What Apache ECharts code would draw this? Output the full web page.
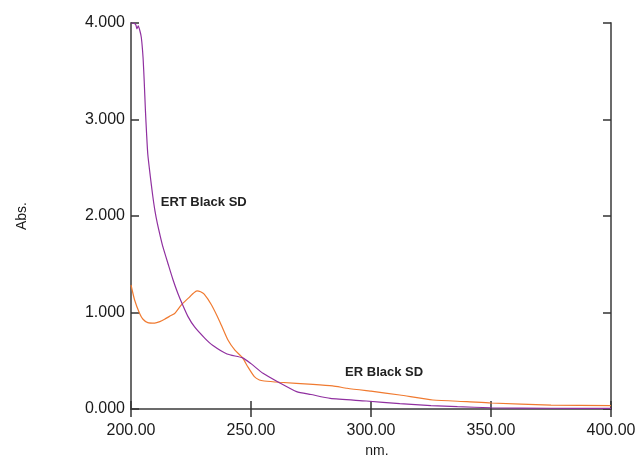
<!DOCTYPE html>
<html>
<head>
<meta charset="utf-8">
<script src="https://cdn.jsdelivr.net/npm/echarts@6/dist/echarts.min.js"></script>
<style>
  html, body { margin: 0; padding: 0; background: #fff; }
  #chart { width: 637px; height: 455px; }
</style>
</head>
<body>
<div id="chart"></div>
<script>
// UV-Vis absorbance spectra (wavelength in nm, absorbance)
const ertNm  = [200, 201, 202, 202.5, 203, 203.7, 204.3, 205, 205.5, 206, 206.5, 207, 208, 209, 210, 211, 212.2, 213.3, 215.5, 217.5, 219.5, 221.5, 223.7, 226.5, 230.7, 234, 240, 246.5, 250, 255, 262, 269, 275, 283, 298, 312, 325, 336, 350, 375, 400];
const ertAbs = [4.00, 4.00, 3.98, 3.94, 3.97, 3.92, 3.85, 3.65, 3.40, 3.10, 2.85, 2.64, 2.42, 2.22, 2.05, 1.92, 1.79, 1.68, 1.50, 1.34, 1.20, 1.08, 0.96, 0.85, 0.735, 0.66, 0.57, 0.53, 0.47, 0.37, 0.27, 0.18, 0.15, 0.11, 0.083, 0.055, 0.035, 0.024, 0.013, 0.008, 0.006];

const erNm  = [200, 201.5, 203.6, 205, 207, 209.9, 212, 214, 216, 218.2, 221, 224.4, 226, 227.5, 229, 230.5, 233.5, 237, 240.4, 243.3, 246.5, 248.6, 251.4, 253.5, 255.5, 262, 275.8, 284, 290, 298, 300, 312, 325.8, 340, 350, 375, 400];
const erAbs = [1.285, 1.13, 0.99, 0.93, 0.895, 0.89, 0.905, 0.93, 0.96, 0.99, 1.08, 1.16, 1.20, 1.225, 1.215, 1.19, 1.08, 0.905, 0.715, 0.61, 0.53, 0.44, 0.335, 0.30, 0.29, 0.277, 0.256, 0.24, 0.215, 0.19, 0.185, 0.145, 0.093, 0.076, 0.062, 0.041, 0.035];

// Curve name labels, anchored in data space
const ertLabel = { text: 'ERT Black SD', nm: 212.4, abs: 2.145 };
const erLabel  = { text: 'ER Black SD',  nm: 289.2, abs: 0.383 };

const pairs = (xs, ys) => xs.map((x, i) => [x, ys[i]]);

const frameLine = { show: true, lineStyle: { color: '#6b6b6b', width: 2 } };
const innerTick = { show: true, inside: true, length: 8, lineStyle: { color: '#333', width: 1.5 } };
const labelFont = { fontFamily: 'Liberation Sans, Arial, sans-serif', fontSize: 16, color: '#1a1a1a' };

const tag = (l) => ({
  coord: [l.nm, l.abs],
  symbol: 'circle',
  symbolSize: 0,
  label: {
    show: true, position: 'inside', align: 'left', verticalAlign: 'middle',
    formatter: l.text, fontFamily: 'Liberation Sans, Arial, sans-serif',
    fontWeight: 'bold', fontSize: 13, color: '#222'
  }
});

const chart = echarts.init(document.getElementById('chart'), null, { renderer: 'canvas' });
chart.setOption({
  animation: false,
  backgroundColor: '#fff',
  grid: { left: 131, right: 26, top: 23, bottom: 46, containLabel: false, outerBoundsMode: 'none' },
  xAxis: [
    {
      type: 'value', min: 200, max: 400, interval: 50, position: 'bottom',
      name: 'nm.', nameLocation: 'middle', nameGap: 25,
      nameTextStyle: { fontFamily: 'Liberation Sans, Arial, sans-serif', fontSize: 14, color: '#1a1a1a', padding: [0, 0, 0, 12] },
      axisLine: frameLine, axisTick: innerTick,
      axisLabel: Object.assign({ margin: 14, formatter: v => v.toFixed(2) }, labelFont),
      splitLine: { show: false }
    },
    {
      type: 'value', min: 200, max: 400, interval: 50, position: 'top',
      axisLine: frameLine, axisTick: innerTick, axisLabel: { show: false }, splitLine: { show: false }
    }
  ],
  yAxis: [
    {
      type: 'value', min: 0, max: 4, interval: 1, position: 'left',
      name: 'Abs.', nameLocation: 'middle', nameGap: 102, nameRotate: 90,
      nameTextStyle: { fontFamily: 'Liberation Sans, Arial, sans-serif', fontSize: 14, color: '#1a1a1a' },
      axisLine: frameLine, axisTick: innerTick,
      axisLabel: Object.assign({ margin: 6, formatter: v => v.toFixed(3) }, labelFont),
      splitLine: { show: false }
    },
    {
      type: 'value', min: 0, max: 4, interval: 1, position: 'right',
      axisLine: frameLine, axisTick: innerTick, axisLabel: { show: false }, splitLine: { show: false }
    }
  ],
  series: [
    {
      name: 'ER Black SD', type: 'line', data: pairs(erNm, erAbs),
      showSymbol: false, smooth: 0.2, clip: true,
      lineStyle: { color: '#f07a30', width: 1.2 },
      markPoint: { silent: true, data: [tag(erLabel)] }
    },
    {
      name: 'ERT Black SD', type: 'line', data: pairs(ertNm, ertAbs),
      showSymbol: false, smooth: 0.2, clip: true,
      lineStyle: { color: '#9030a0', width: 1.2 },
      markPoint: { silent: true, data: [tag(ertLabel)] }
    }
  ]
});
</script>
</body>
</html>
